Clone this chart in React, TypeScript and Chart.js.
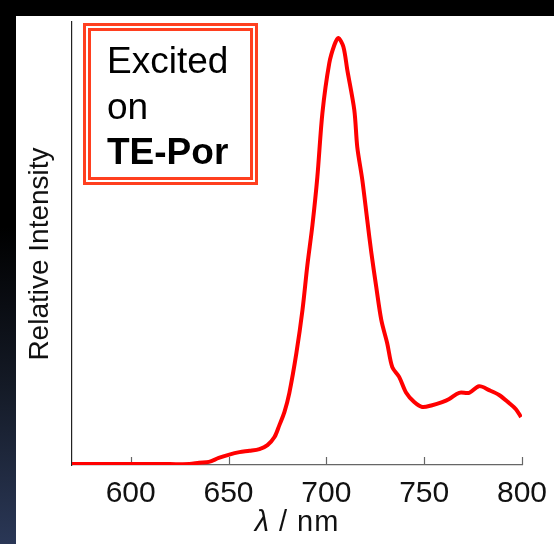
import React, { useEffect, useRef } from "react";
import { Chart, registerables } from "chart.js";

Chart.register(...registerables);

const wavelengths = [570, 600, 620, 630, 635, 640, 645, 650, 655.6, 660.7, 665.8, 669.9, 673.5, 676, 678.6, 681.1, 684.7, 687.8, 690.3, 692.9, 695.4, 698, 701.5, 704.1, 706.1, 708.7, 710.7, 714.3, 715.8, 718.4, 720.9, 723, 725.5, 728.1, 731.1, 733.7, 737.2, 740.8, 744.9, 749, 754.1, 759.2, 762.8, 767.9, 773, 778.1, 783.2, 788.3, 793.4, 796.9, 799.5];
const intensity = [0.002, 0.002, 0.002, 0.002, 0.005, 0.007, 0.016, 0.023, 0.029, 0.032, 0.036, 0.045, 0.063, 0.09, 0.12, 0.163, 0.253, 0.35, 0.451, 0.542, 0.65, 0.795, 0.907, 0.948, 0.964, 0.944, 0.892, 0.801, 0.718, 0.643, 0.553, 0.479, 0.402, 0.327, 0.275, 0.221, 0.199, 0.163, 0.142, 0.131, 0.135, 0.142, 0.149, 0.163, 0.163, 0.178, 0.169, 0.158, 0.14, 0.126, 0.108];
const xTicks = [600, 650, 700, 750, 800];
const legendLines = ["Excited", "on", "TE-Por"];
const yTitle = "Relative Intensity";

const FONT = "'Liberation Sans', Arial, Helvetica, sans-serif";

export default function App() {
  const canvasRef = useRef<HTMLCanvasElement>(null);

  useEffect(() => {
    document.body.style.margin = "0";
    const ctx = canvasRef.current!;
    const extras = {
      id: "extras",
      beforeDatasetsDraw(chart: any) {
        const c = chart.ctx;
        const xs = chart.scales.x;
        const y = chart.chartArea.bottom;
        c.save();
        c.strokeStyle = "#666666";
        c.lineWidth = 1.2;
        xTicks.forEach((t) => {
          const px = Math.round(xs.getPixelForValue(t)) + 0.5;
          c.beginPath();
          c.moveTo(px, y);
          c.lineTo(px, y - 8);
          c.stroke();
        });
        c.restore();
      },
      afterDraw(chart: any) {
        const c = chart.ctx;
        c.save();
        c.translate(40, 254);
        c.rotate(-Math.PI / 2);
        c.fillStyle = "#111111";
        c.font = `28px ${FONT}`;
        c.textAlign = "center";
        c.textBaseline = "middle";
        c.fillText(yTitle, 0, 0);
        c.restore();
      },
    };
    const chart = new Chart(ctx, {
      type: "line",
      data: {
        datasets: [
          {
            data: wavelengths.map((w, i) => ({ x: w, y: intensity[i] })),
            borderColor: "#ff0000",
            borderWidth: 4,
            pointRadius: 0,
            tension: 0.3,
            fill: false,
          },
        ],
      },
      options: {
        animation: false,
        responsive: false,
        events: [],
        layout: { padding: { left: 0, top: 22, right: 32, bottom: 0 } },
        plugins: { legend: { display: false }, tooltip: { enabled: false } },
        scales: {
          x: {
            type: "linear",
            min: 570,
            max: 800,
            afterBuildTicks: (s: any) => {
              s.ticks = xTicks.map((v) => ({ value: v }));
            },
            afterFit: (s: any) => {
              s.height = 79;
              s.paddingLeft = 0;
              s.paddingRight = 0;
            },
            grid: { display: false, drawTicks: false },
            border: { display: true, color: "#666666", width: 1.2 },
            ticks: {
              color: "#111111",
              font: { family: FONT, size: 30 },
              padding: 11,
              maxRotation: 0,
              autoSkip: false,
            },
          },
          y: {
            min: 0,
            max: 1,
            afterFit: (s: any) => {
              s.width = 72;
            },
            grid: { display: false, drawTicks: false },
            border: { display: true, color: "#222222", width: 1.2 },
            ticks: { display: false },
          },
        },
      },
      plugins: [extras],
    } as any);
    return () => chart.destroy();
  }, []);

  return (
    <div style={{ position: "absolute", left: 0, top: 0, width: 554, height: 544, overflow: "hidden", background: "#000" }}>
      <div
        style={{
          position: "absolute",
          left: 0,
          top: 16,
          width: 16,
          height: 528,
          background: "linear-gradient(to bottom, #000000 0%, #000000 40%, #141a26 70%, #2a3756 100%)",
        }}
      />
      <div style={{ position: "absolute", left: 16, top: 16, width: 538, height: 528, background: "#ffffff" }} />
      <canvas ref={canvasRef} width={554} height={544} style={{ position: "absolute", left: 0, top: 0, width: 554, height: 544 }} />
      <div
        style={{
          position: "absolute",
          left: 83,
          top: 23,
          width: 175,
          height: 162,
          boxSizing: "border-box",
          border: "8px double #ff3f1f",
          fontFamily: FONT,
          fontSize: 37,
          lineHeight: "45.5px",
          color: "#000",
          paddingLeft: 16,
          paddingTop: 7,
          whiteSpace: "nowrap",
        }}
      >
        <div>{legendLines[0]}</div>
        <div>{legendLines[1]}</div>
        <div style={{ fontWeight: "bold" }}>{legendLines[2]}</div>
      </div>
      <div
        style={{
          position: "absolute",
          left: 72,
          width: 450,
          top: 505,
          textAlign: "center",
          fontFamily: FONT,
          fontSize: 29,
          color: "#111",
          whiteSpace: "pre",
          letterSpacing: 1,
        }}
      >
        <i>λ</i> / nm
      </div>
    </div>
  );
}
